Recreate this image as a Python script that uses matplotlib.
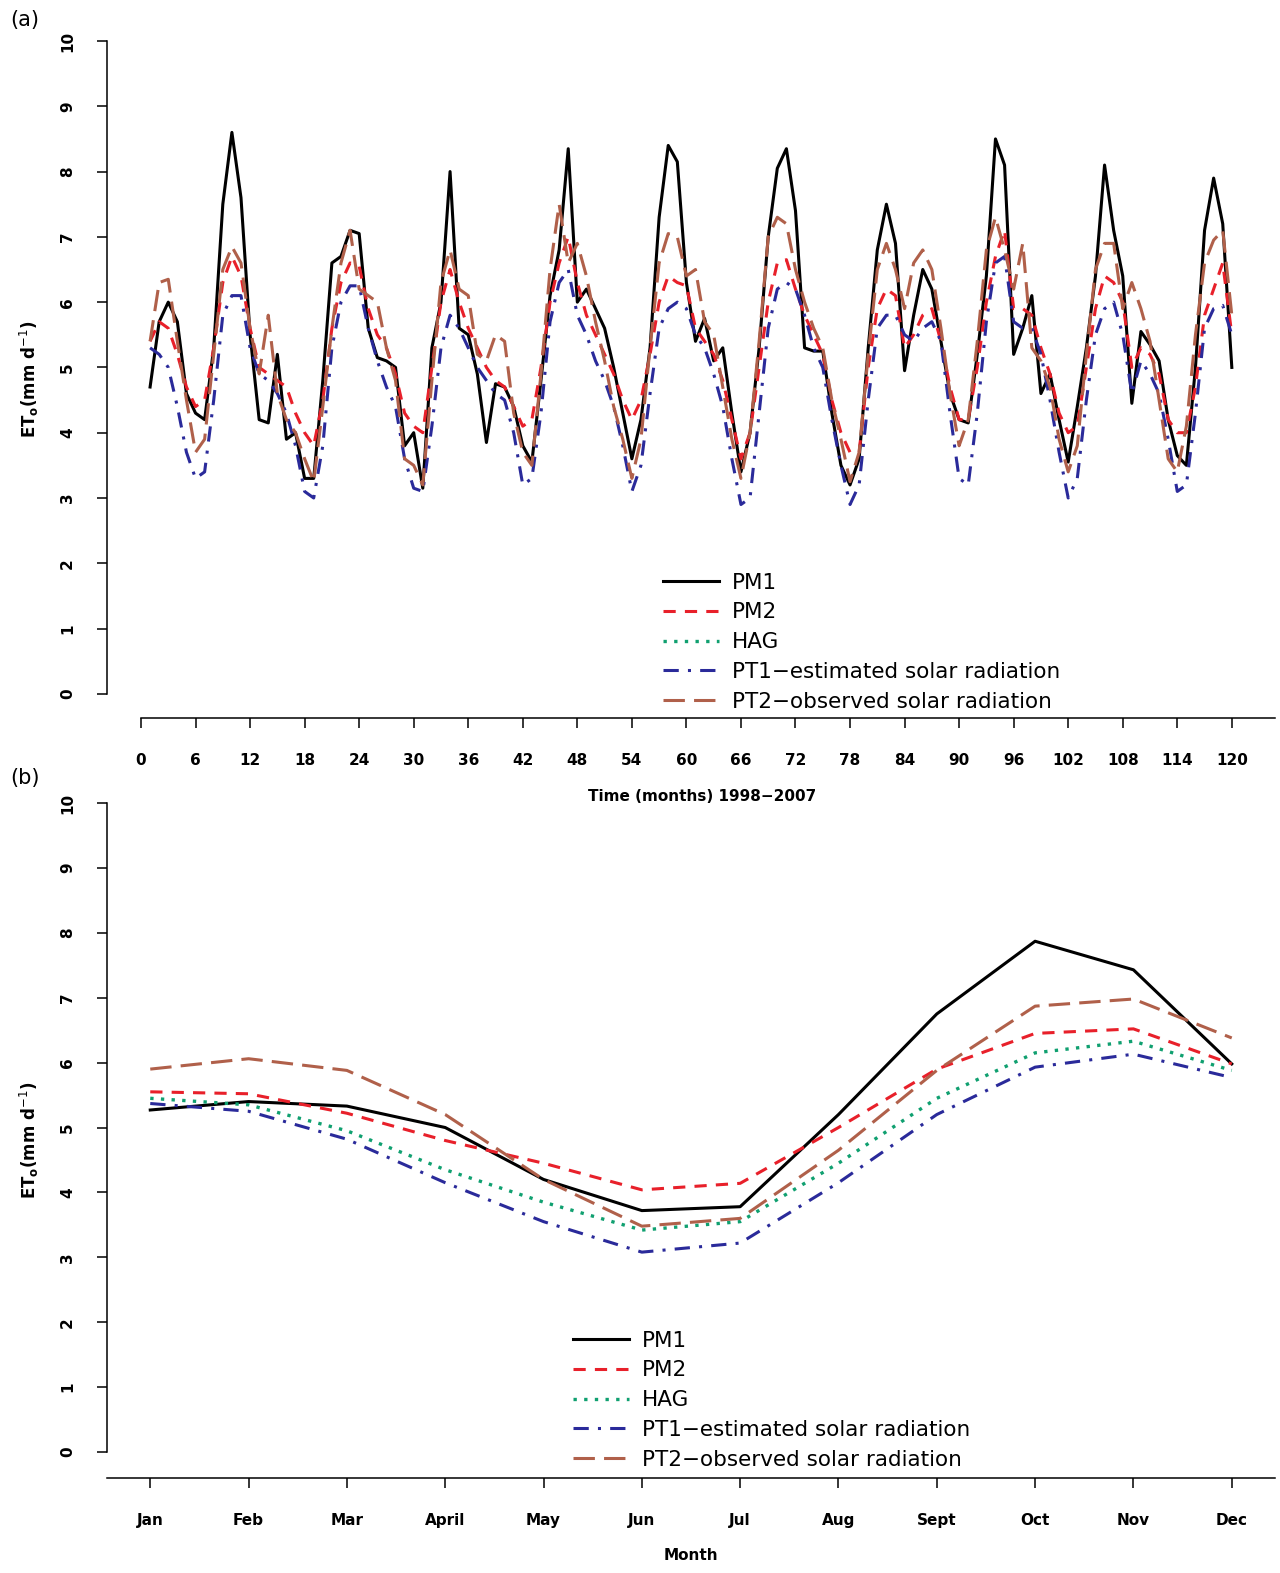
import numpy as np
import matplotlib
matplotlib.use("Agg")
import matplotlib.pyplot as plt
from matplotlib.lines import Line2D

# ---- panel (a): monthly series 1998-2007 ----
months = np.arange(1, 121)
pm1_a = [4.7, 5.7, 6.0, 5.7, 4.6, 4.3, 4.2, 5.3, 7.5, 8.6, 7.6, 5.5,
         4.2, 4.15, 5.2, 3.9, 4.0, 3.3, 3.3, 4.8, 6.6, 6.7, 7.1, 7.05,
         5.6, 5.15, 5.1, 5.0, 3.8, 4.0, 3.15, 5.3, 6.0, 8.0, 5.6, 5.5,
         4.9, 3.85, 4.75, 4.7, 4.4, 3.8, 3.55, 4.8, 6.1, 6.8, 8.35, 6.0,
         6.2, 5.9, 5.6, 5.0, 4.3, 3.6, 4.2, 5.3, 7.3, 8.4, 8.15, 6.3,
         5.4, 5.75, 5.1, 5.3, 4.3, 3.4, 4.0, 5.3, 7.0, 8.05, 8.35, 7.4,
         5.3, 5.25, 5.25, 4.3, 3.5, 3.2, 3.6, 5.3, 6.8, 7.5, 6.9, 4.95,
         5.8, 6.5, 6.2, 5.4, 4.6, 4.2, 4.15, 5.2, 6.4, 8.5, 8.1, 5.2,
         5.6, 6.1, 4.6, 4.9, 4.2, 3.55, 4.4, 5.3, 6.4, 8.1, 7.1, 6.4,
         4.45, 5.55, 5.35, 5.1, 4.2, 3.65, 3.5, 5.0, 7.1, 7.9, 7.2, 5.0]
pm2_a = [5.4, 5.7, 5.6, 5.2, 4.7, 4.4, 4.5, 5.3, 6.3, 6.7, 6.4, 5.6,
         5.0, 4.9, 4.8, 4.7, 4.3, 4.0, 3.8, 4.5, 5.6, 6.3, 6.6, 6.55,
         5.9, 5.5, 5.3, 4.9, 4.3, 4.1, 4.0, 5.0, 6.0, 6.5, 6.0, 5.6,
         5.3, 5.0, 4.8, 4.7, 4.4, 4.1, 4.2, 5.0, 6.0, 6.6, 7.0, 6.3,
         5.8, 5.5, 5.2, 4.9, 4.5, 4.2, 4.5, 5.2, 6.0, 6.4, 6.3, 6.25,
         5.6, 5.4, 5.2, 4.8, 4.2, 3.6, 4.0, 5.0, 6.0, 6.6, 6.65, 6.2,
         5.8, 5.5, 5.2, 4.5, 4.0, 3.7, 3.7, 5.0, 5.9, 6.2, 6.1, 5.3,
         5.5, 5.8, 5.9, 5.4, 4.7, 4.2, 4.2, 5.0, 6.0, 6.7, 7.1, 5.9,
         5.9, 5.8, 5.3, 4.9, 4.3, 4.0, 4.1, 5.0, 5.9, 6.4, 6.3, 6.0,
         5.0, 5.3, 5.2, 4.9, 4.2, 4.0, 4.0, 4.7, 5.8, 6.2, 6.6, 5.5]
pt1_a = [5.3, 5.2, 5.0, 4.4, 3.7, 3.3, 3.4, 4.5, 5.8, 6.1, 6.1, 5.3,
         4.9, 4.8, 4.6, 4.3, 3.8, 3.1, 3.0, 3.8, 5.3, 6.0, 6.25, 6.25,
         5.6, 5.1, 4.7, 4.4, 3.6, 3.15, 3.1, 4.1, 5.3, 5.8, 5.6, 5.3,
         5.0, 4.8, 4.6, 4.5, 4.0, 3.2, 3.3, 4.3, 5.7, 6.3, 6.5, 5.8,
         5.5, 5.1, 4.8, 4.4, 3.8, 3.1, 3.5, 4.6, 5.6, 5.9, 6.0, 5.9,
         5.5, 5.3, 4.9, 4.4, 3.6, 2.9, 3.0, 4.3, 5.6, 6.2, 6.3, 6.2,
         5.8, 5.3, 5.0, 4.2, 3.5, 2.9, 3.2, 4.5, 5.6, 5.8, 5.8, 5.5,
         5.4, 5.6, 5.7, 5.4, 4.3, 3.3, 3.2, 4.3, 5.7, 6.6, 6.7, 5.7,
         5.6, 5.6, 5.2, 4.5, 3.7, 3.0, 3.3, 4.5, 5.5, 5.9, 6.0, 5.5,
         4.6, 5.1, 4.9, 4.6, 3.9, 3.1, 3.2, 4.3, 5.6, 5.9, 5.95, 5.5]
pt2_a = [5.4, 6.3, 6.35, 5.4, 4.5, 3.7, 3.9, 5.2, 6.5, 6.85, 6.6, 5.6,
         4.9, 5.8, 4.6, 4.2, 4.0, 3.6, 3.25, 4.4, 5.6, 6.6, 7.1, 6.2,
         6.1, 6.0, 5.3, 4.8, 3.6, 3.5, 3.2, 4.8, 6.3, 6.8, 6.2, 6.1,
         5.2, 5.1, 5.5, 5.4, 4.3, 3.7, 3.5, 4.9, 6.5, 7.5, 6.6, 6.9,
         6.4, 5.7, 5.1, 4.4, 3.9, 3.3, 3.9, 5.3, 6.6, 7.05, 7.0, 6.4,
         6.5, 5.7, 5.5, 4.7, 3.9, 3.3, 4.0, 5.4, 7.0, 7.3, 7.2, 6.5,
         6.0, 5.6, 5.3, 4.5, 3.9, 3.25, 3.7, 5.2, 6.5, 6.9, 6.5, 5.9,
         6.6, 6.8, 6.5, 5.6, 4.6, 3.8, 4.2, 5.4, 6.8, 7.3, 6.8, 6.2,
         6.9, 5.3, 5.1, 4.7, 3.9, 3.4, 3.8, 5.2, 6.5, 6.9, 6.9, 5.9,
         6.3, 5.9, 5.4, 4.5, 3.6, 3.4, 4.1, 5.5, 6.6, 6.95, 7.1, 5.8]

# ---- panel (b): monthly means ----
month_names = ["Jan", "Feb", "Mar", "April", "May", "Jun", "Jul", "Aug",
               "Sept", "Oct", "Nov", "Dec"]
pm1_b = [5.27, 5.40, 5.33, 5.00, 4.20, 3.72, 3.78, 5.20, 6.75, 7.87, 7.43, 5.98]
pm2_b = [5.55, 5.52, 5.22, 4.80, 4.45, 4.04, 4.14, 5.00, 5.90, 6.45, 6.52, 5.98]
hag_b = [5.45, 5.35, 4.95, 4.35, 3.85, 3.42, 3.55, 4.45, 5.45, 6.15, 6.33, 5.88]
pt1_b = [5.37, 5.25, 4.82, 4.15, 3.55, 3.08, 3.22, 4.15, 5.20, 5.93, 6.13, 5.77]
pt2_b = [5.90, 6.06, 5.88, 5.20, 4.20, 3.48, 3.60, 4.65, 5.88, 6.87, 6.98, 6.38]

labels = ["PM1", "PM2", "HAG", "PT1\u2212estimated solar radiation",
          "PT2\u2212observed solar radiation"]
styles = [
    dict(color="black", lw=2.2, ls="-"),
    dict(color="#e8202a", lw=2.2, ls=(0, (4, 3))),
    dict(color="#10a070", lw=2.4, ls=(0, (1, 2.2))),
    dict(color="#2a2a9a", lw=2.2, ls=(0, (5, 3, 1, 3))),
    dict(color="#b0604a", lw=2.2, ls=(0, (7, 3))),
]

W, H = 1280, 1573
fig = plt.figure(figsize=(W / 100, H / 100), dpi=100)


def px_axes(left, top, right, bottom):
    ax = fig.add_axes([left / W, 1 - bottom / H, (right - left) / W, (bottom - top) / H])
    ax.patch.set_alpha(0)
    return ax


def r_style(ax, xmin_line):
    for s in ["top", "right"]:
        ax.spines[s].set_visible(False)
    ax.spines["left"].set_bounds(0, 10)
    ax.spines["bottom"].set_bounds(xmin_line, ax.get_xlim()[1])
    ax.set_yticks(range(0, 11))
    ax.set_yticklabels([str(i) for i in range(11)], rotation=90, va="center",
                       fontsize=11, fontweight="bold")
    ax.tick_params(length=7, width=1.1)
    ax.tick_params(axis="y", pad=16)
    ax.tick_params(axis="x", pad=18)
    for s in ["left", "bottom"]:
        ax.spines[s].set_linewidth(1.1)
    ax.set_ylabel(r"$\mathbf{ET_o}$(mm d$^{-1}$)", fontsize=12, fontweight="bold", labelpad=14)


# panel (a)
ax1 = px_axes(107, 41, 1275, 718)
ax1.set_xlim(-3.74, 124.75)
ax1.set_ylim(-0.37, 10)
for ser, st in zip([pm1_a, pm2_a, pt1_a, pt2_a], [styles[0], styles[1], styles[3], styles[4]]):
    ax1.plot(months, ser, **st)
r_style(ax1, 0)
ax1.set_xticks(range(0, 121, 6))
ax1.set_xticklabels([str(i) for i in range(0, 121, 6)], fontsize=11, fontweight="bold")
fig.text(702 / W, 1 - 797 / H, "Time (months) 1998\u22122007", fontsize=11,
         fontweight="bold", ha="center", va="center")

handles = [Line2D([], [], **st) for st in styles]
leg_kw = dict(frameon=False, fontsize=15.5, handlelength=2.6, labelspacing=0.45,
              handletextpad=0.6, borderpad=0)
ax1.legend(handles, labels, loc="upper left",
           bbox_to_anchor=(652 / W, 1 - 562 / H), bbox_transform=fig.transFigure, **leg_kw)

# panel (b)
ax2 = px_axes(107, 803, 1275, 1478)
ax2.set_xlim(-0.44, 11.44)
ax2.set_ylim(-0.4, 10)
x_b = np.arange(12)
for ser, st in zip([pm1_b, pm2_b, hag_b, pt1_b, pt2_b], styles):
    ax2.plot(x_b, ser, **st)
r_style(ax2, -0.44)
ax2.set_xticks(x_b)
ax2.set_xticklabels(month_names, fontsize=11, fontweight="bold")
fig.text(691 / W, 1 - 1556 / H, "Month", fontsize=11, fontweight="bold",
         ha="center", va="center")
ax2.legend(handles, labels, loc="upper left",
           bbox_to_anchor=(562 / W, 1 - 1320 / H), bbox_transform=fig.transFigure, **leg_kw)

fig.text(10 / W, 1 - 20 / H, "(a)", fontsize=15, va="center")
fig.text(10 / W, 1 - 778 / H, "(b)", fontsize=15, va="center")

fig.savefig("out.png", dpi=100)
